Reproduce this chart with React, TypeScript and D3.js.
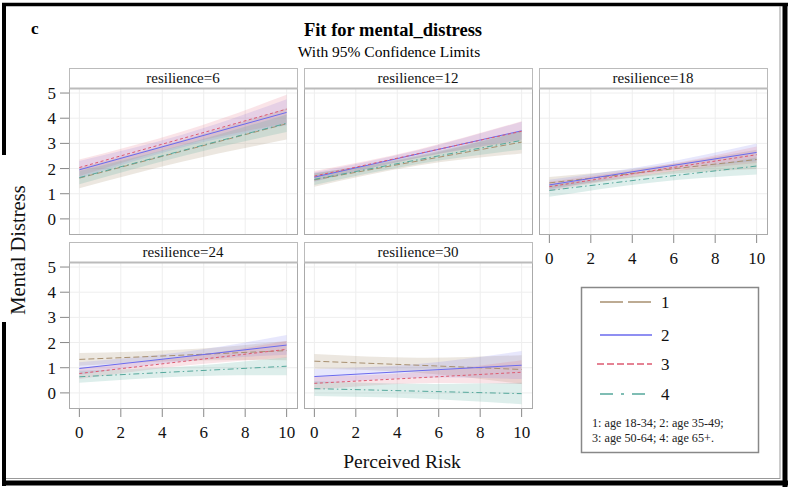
import React from "react";
import * as d3 from "d3";

// ---- data ----
const resilienceLevels = [6, 12, 18, 24, 30];
const riskPoints = [0, 5, 10];
const xTicks = [0, 2, 4, 6, 8, 10];
const yTicks = [0, 1, 2, 3, 4, 5];
const groupNames = ["1", "2", "3", "4"];
const footnoteLines = ["1: age 18-34; 2: age 35-49;", "3: age 50-64; 4: age 65+."];

// rows = resilience panels, columns = predicted at risk 0, 5, 10
const age1Fit = [[1.62, 2.70, 3.78], [1.55, 2.30, 3.05], [1.43, 1.90, 2.36], [1.33, 1.50, 1.68], [1.26, 1.10, 0.93]];
const age1Lower = [[1.22, 2.28, 3.15], [1.28, 2.12, 2.60], [1.20, 1.72, 1.98], [1.08, 1.28, 1.30], [0.96, 0.80, 0.35]];
const age1Upper = [[2.02, 3.13, 4.40], [1.82, 2.48, 3.50], [1.66, 2.08, 2.75], [1.58, 1.72, 2.06], [1.55, 1.40, 1.50]];

const age2Fit = [[1.95, 3.09, 4.23], [1.66, 2.58, 3.50], [1.35, 2.00, 2.64], [0.97, 1.43, 1.90], [0.65, 0.88, 1.10]];
const age2Lower = [[1.62, 2.85, 3.72], [1.48, 2.43, 3.15], [1.15, 1.85, 2.30], [0.72, 1.25, 1.52], [0.35, 0.60, 0.55]];
const age2Upper = [[2.30, 3.35, 4.75], [1.85, 2.73, 3.86], [1.56, 2.15, 3.00], [1.22, 1.62, 2.30], [0.95, 1.15, 1.66]];

const age3Fit = [[2.04, 3.20, 4.36], [1.70, 2.59, 3.48], [1.28, 1.92, 2.55], [0.77, 1.25, 1.73], [0.38, 0.60, 0.82]];
const age3Lower = [[1.70, 2.93, 3.80], [1.50, 2.42, 3.10], [1.10, 1.78, 2.22], [0.55, 1.08, 1.40], [0.12, 0.38, 0.35]];
const age3Upper = [[2.36, 3.48, 4.93], [1.90, 2.76, 3.88], [1.48, 2.06, 2.88], [1.00, 1.42, 2.06], [0.64, 0.82, 1.30]];

const age4Fit = [[1.64, 2.72, 3.80], [1.57, 2.35, 3.12], [1.13, 1.62, 2.10], [0.64, 0.85, 1.06], [0.17, 0.07, -0.03]];
const age4Lower = [[1.38, 2.50, 3.45], [1.35, 2.18, 2.75], [0.88, 1.45, 1.76], [0.40, 0.65, 0.70], [-0.12, -0.22, -0.45]];
const age4Upper = [[1.90, 2.95, 4.15], [1.80, 2.52, 3.50], [1.38, 1.79, 2.44], [0.88, 1.05, 1.42], [0.46, 0.36, 0.40]];

const fits = [age1Fit, age2Fit, age3Fit, age4Fit];
const lowers = [age1Lower, age2Lower, age3Lower, age4Lower];
const uppers = [age1Upper, age2Upper, age3Upper, age4Upper];

// ---- styles ----
const colors = ["#A89070", "#6A6AEE", "#DD5A70", "#55A89C"];
const bandOpacity = [0.22, 0.16, 0.16, 0.2];
const plotDash = ["6,3", null, "3,2.5", "6,3,1.5,3"];
const legendDash = ["23,5", null, "7,3", "13,8,3,8"];
const FONT = "'Liberation Serif', 'Times New Roman', serif";

const W = 789;
const H = 487;
const colX = [69, 304, 539];
const panelW = 228;
const headerH = 20;
const plotH = 146;
const rowTop = [68, 242];

export default function App() {
  const panels = resilienceLevels.map((r, i) => {
    const row = Math.floor(i / 3);
    const col = i % 3;
    const x0 = colX[col];
    const top = rowTop[row];
    const pTop = top + headerH;
    const pBottom = pTop + plotH;
    const x = d3.scaleLinear().domain([-0.5, 10.5]).range([x0, x0 + panelW]);
    const y = d3.scaleLinear().domain([-0.6, 5.2]).range([pBottom, pTop]);
    const showX = row === 1 || col === 2;
    const showY = col === 0;
    return { r, i, row, col, x0, top, pTop, pBottom, x, y, showX, showY };
  });

  return (
    <svg
      width={W}
      height={H}
      style={{ position: "absolute", left: 0, top: 0, background: "#fff" }}
      fontFamily={FONT}
    >
      <rect x={0} y={0} width={W} height={H} fill="#fff" />
      {/* outer frame */}
      <line x1={2} x2={788} y1={4.5} y2={4.5} stroke="#000" strokeWidth={3.5} />
      <line x1={785} x2={785} y1={3} y2={487} stroke="#000" strokeWidth={5} />
      <line x1={780} x2={780} y1={6} y2={479} stroke="#999" strokeWidth={1} />
      <line x1={2} x2={788} y1={483} y2={483} stroke="#000" strokeWidth={5} />
      <line x1={6} x2={780} y1={478.5} y2={478.5} stroke="#999" strokeWidth={1} />
      <line x1={4} x2={4} y1={3} y2={155} stroke="#000" strokeWidth={4} />
      <line x1={4} x2={4} y1={322} y2={486} stroke="#000" strokeWidth={4} />

      <text x={31} y={34} fontSize={17} fontWeight="bold">c</text>
      <text x={393} y={36} fontSize={18.5} fontWeight="bold" textAnchor="middle">
        Fit for mental_distress
      </text>
      <text x={389} y={57} fontSize={15.5} textAnchor="middle">
        With 95% Confidence Limits
      </text>

      {panels.map((p) => {
        const pts = riskPoints.map((rp, k) => ({ rp, k }));
        return (
          <g key={p.i}>
            {/* header */}
            <rect x={p.x0 + 0.5} y={p.top + 0.5} width={panelW} height={headerH} fill="#fff" stroke="#bbb" />
            <text x={p.x0 + panelW / 2} y={p.top + 15} fontSize={15} textAnchor="middle" fill="#111">
              {`resilience=${p.r}`}
            </text>
            {/* grid */}
            {xTicks.map((t) => (
              <line key={"gx" + t} x1={p.x(t)} x2={p.x(t)} y1={p.pTop} y2={p.pBottom} stroke="#eeeeee" />
            ))}
            {yTicks.map((t) => (
              <line key={"gy" + t} x1={p.x0} x2={p.x0 + panelW} y1={p.y(t)} y2={p.y(t)} stroke="#eeeeee" />
            ))}
            {/* bands */}
            {groupNames.map((g, gi) => {
              const area = d3
                .area<{ rp: number; k: number }>()
                .x((d) => p.x(d.rp))
                .y0((d) => p.y(lowers[gi][p.i][d.k]))
                .y1((d) => p.y(uppers[gi][p.i][d.k]))
                .curve(d3.curveNatural);
              return (
                <path key={"b" + g} d={area(pts) || ""} fill={colors[gi]} fillOpacity={bandOpacity[gi]} stroke="none" />
              );
            })}
            {/* fit lines */}
            {groupNames.map((g, gi) => {
              const line = d3
                .line<{ rp: number; k: number }>()
                .x((d) => p.x(d.rp))
                .y((d) => p.y(fits[gi][p.i][d.k]));
              return (
                <path
                  key={"l" + g}
                  d={line(pts) || ""}
                  fill="none"
                  stroke={colors[gi]}
                  strokeWidth={1}
                  strokeDasharray={plotDash[gi] || undefined}
                />
              );
            })}
            {/* border */}
            <rect x={p.x0 + 0.5} y={p.pTop + 0.5} width={panelW} height={plotH} fill="none" stroke="#aaa" />
            <line x1={p.x0} x2={p.x0 + panelW + 1} y1={p.pTop + 0.5} y2={p.pTop + 0.5} stroke="#bbb" strokeWidth={2} />
            {/* axes */}
            {p.showX &&
              xTicks.map((t) => (
                <g key={"xt" + t}>
                  <line x1={p.x(t)} x2={p.x(t)} y1={p.pBottom + 1} y2={p.pBottom + 9} stroke="#888" />
                  <text x={p.x(t)} y={p.pBottom + 30} fontSize={17} textAnchor="middle" fill="#111">
                    {t}
                  </text>
                </g>
              ))}
            {p.showY &&
              yTicks.map((t) => (
                <g key={"yt" + t}>
                  <line x1={p.x0 - 9} x2={p.x0} y1={p.y(t)} y2={p.y(t)} stroke="#888" />
                  <text x={p.x0 - 13} y={p.y(t) + 6} fontSize={17} textAnchor="end" fill="#111">
                    {t}
                  </text>
                </g>
              ))}
          </g>
        );
      })}

      {/* axis labels */}
      <text x={402} y={468} fontSize={19.5} textAnchor="middle" fill="#111">
        Perceived Risk
      </text>
      <text transform="translate(25,250) rotate(-90)" fontSize={20.5} textAnchor="middle" fill="#111">
        Mental Distress
      </text>

      {/* legend */}
      <rect x={581.5} y={287.5} width={177} height={165} fill="#fff" stroke="#888" strokeWidth={1.5} />
      {groupNames.map((g, gi) => {
        const ly = [302, 335, 364, 394][gi];
        return (
          <g key={"lg" + g}>
            <line
              x1={gi === 2 ? 597 : 600}
              x2={652}
              y1={ly}
              y2={ly}
              stroke={colors[gi]}
              strokeWidth={1.6}
              strokeDasharray={legendDash[gi] || undefined}
            />
            <text x={661} y={ly + 6} fontSize={17} fill="#111">
              {g}
            </text>
          </g>
        );
      })}
      {footnoteLines.map((t, k) => (
        <text key={"fn" + k} x={592} y={427 + k * 14.5} fontSize={12.2} fill="#222">
          {t}
        </text>
      ))}
    </svg>
  );
}
